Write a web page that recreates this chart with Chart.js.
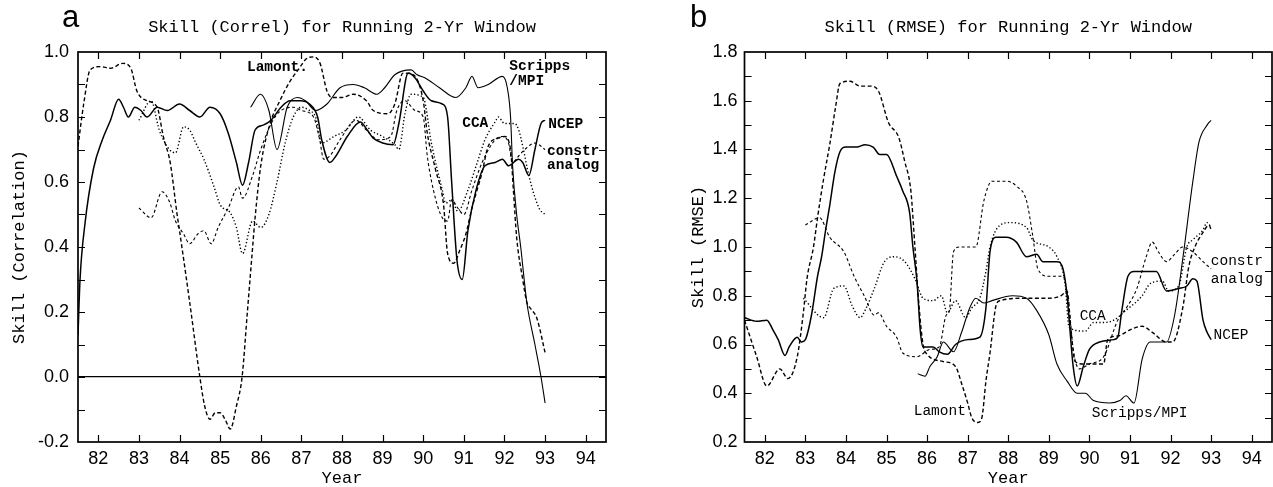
<!DOCTYPE html>
<html>
<head>
<meta charset="utf-8">
<script src="https://cdn.jsdelivr.net/npm/chart.js@4.4.1/dist/chart.umd.min.js"></script>
<style>
  body { margin: 0; background: #fff; }
  #wrap { position: relative; width: 1273px; height: 487px; overflow: hidden; }
  #wrap div { position: absolute; top: 0; }
</style>
</head>
<body>
<div id="wrap">
  <div style="left:0"><canvas id="corrChart" width="640" height="487"></canvas></div>
  <div style="left:636px"><canvas id="rmseChart" width="637" height="487"></canvas></div>
</div>
<script>
// --- tick labels ---
const yearTicks = [82, 83, 84, 85, 86, 87, 88, 89, 90, 91, 92, 93, 94];
const corrTicks = [-0.2, 0.0, 0.2, 0.4, 0.6, 0.8, 1.0];
const rmseTicks = [0.2, 0.4, 0.6, 0.8, 1.0, 1.2, 1.4, 1.6, 1.8];

// --- panel a: correlation, [year, skill] ---
const ncepCorr = [[81.5,0.13],[81.55,0.3],[81.67,0.47],[81.88,0.64],[82.1,0.73],[82.3,0.79],[82.5,0.855],[82.62,0.83],[82.74,0.8],[82.9,0.83],[83.05,0.82],[83.2,0.8],[83.45,0.83],[83.7,0.82],[84.0,0.84],[84.25,0.82],[84.5,0.8],[84.75,0.83],[85.0,0.81],[85.2,0.75],[85.4,0.66],[85.55,0.59],[85.7,0.66],[85.86,0.76],[86.06,0.775],[86.25,0.79],[86.5,0.83],[86.72,0.85],[86.97,0.85],[87.2,0.84],[87.4,0.8],[87.5,0.73],[87.7,0.66],[87.85,0.68],[88.13,0.74],[88.45,0.785],[88.62,0.76],[88.77,0.735],[89.0,0.72],[89.26,0.715],[89.4,0.78],[89.63,0.935],[89.8,0.92],[90.0,0.88],[90.2,0.85],[90.47,0.84],[90.6,0.8],[90.7,0.6],[90.83,0.36],[90.96,0.3],[91.1,0.45],[91.3,0.575],[91.52,0.65],[91.77,0.66],[91.95,0.67],[92.1,0.65],[92.35,0.67],[92.45,0.66],[92.6,0.62],[92.75,0.7],[92.9,0.78],[93.0,0.79]];
const scrippsCorr = [[85.75,0.83],[85.99,0.87],[86.2,0.82],[86.4,0.7],[86.65,0.83],[86.9,0.86],[87.1,0.85],[87.35,0.82],[87.63,0.84],[87.95,0.89],[88.28,0.9],[88.55,0.89],[88.86,0.87],[89.05,0.89],[89.3,0.93],[89.7,0.945],[89.85,0.93],[90.05,0.92],[90.4,0.89],[90.8,0.86],[91.05,0.89],[91.2,0.925],[91.35,0.89],[91.6,0.9],[91.95,0.925],[92.07,0.89],[92.15,0.8],[92.2,0.65],[92.3,0.5],[92.4,0.4],[92.55,0.23],[92.75,0.1],[92.9,0.0],[93.0,-0.08]];
const lamontCorr = [[81.5,0.71],[81.64,0.84],[81.8,0.945],[82.05,0.955],[82.3,0.95],[82.6,0.965],[82.8,0.95],[82.95,0.88],[83.2,0.85],[83.45,0.83],[83.6,0.74],[83.77,0.66],[83.94,0.5],[84.0,0.45],[84.25,0.23],[84.5,0.0],[84.62,-0.09],[84.75,-0.13],[84.88,-0.11],[85.0,-0.11],[85.12,-0.13],[85.25,-0.16],[85.4,-0.09],[85.54,0.0],[85.67,0.2],[85.8,0.4],[85.86,0.49],[86.0,0.65],[86.23,0.78],[86.47,0.85],[86.72,0.91],[86.92,0.945],[87.13,0.98],[87.3,0.985],[87.46,0.965],[87.63,0.88],[87.75,0.86],[88.0,0.86],[88.28,0.87],[88.6,0.85],[88.77,0.82],[89.13,0.81],[89.3,0.84],[89.5,0.935],[89.75,0.93],[90.0,0.85],[90.1,0.75],[90.3,0.64],[90.5,0.53],[90.6,0.38],[90.75,0.35],[90.9,0.39],[91.05,0.44],[91.2,0.52],[91.45,0.63],[91.6,0.71],[91.85,0.735],[92.0,0.74],[92.15,0.7],[92.22,0.575],[92.3,0.43],[92.45,0.3],[92.55,0.23],[92.65,0.21],[92.8,0.18],[93.0,0.075]];
const ccaCorr = [[83.0,0.79],[83.3,0.85],[83.5,0.76],[83.75,0.7],[83.9,0.69],[84.1,0.77],[84.25,0.76],[84.4,0.72],[84.6,0.67],[84.85,0.585],[85.0,0.53],[85.25,0.505],[85.4,0.46],[85.55,0.38],[85.8,0.48],[86.0,0.46],[86.2,0.5],[86.4,0.6],[86.6,0.72],[86.8,0.8],[87.0,0.83],[87.2,0.82],[87.35,0.8],[87.5,0.72],[87.8,0.74],[88.1,0.76],[88.4,0.8],[88.7,0.76],[89.0,0.74],[89.3,0.715],[89.4,0.7],[89.55,0.81],[89.7,0.87],[90.0,0.86],[90.2,0.72],[90.47,0.575],[90.55,0.535],[90.7,0.545],[90.85,0.51],[91.1,0.575],[91.33,0.66],[91.52,0.73],[91.77,0.785],[91.85,0.8],[92.0,0.78],[92.25,0.78],[92.35,0.76],[92.45,0.71],[92.6,0.62],[92.85,0.52],[93.0,0.5]];
const constrCorr = [[83.0,0.52],[83.3,0.49],[83.57,0.57],[83.75,0.54],[83.9,0.48],[84.1,0.44],[84.25,0.41],[84.45,0.44],[84.6,0.45],[84.78,0.41],[84.95,0.46],[85.2,0.52],[85.45,0.585],[85.55,0.55],[85.8,0.62],[86.0,0.7],[86.3,0.79],[86.5,0.82],[86.8,0.83],[87.0,0.82],[87.3,0.8],[87.45,0.73],[87.55,0.67],[87.7,0.68],[87.95,0.73],[88.35,0.79],[88.6,0.76],[88.9,0.73],[89.2,0.74],[89.35,0.82],[89.55,0.85],[89.8,0.82],[90.0,0.8],[90.1,0.68],[90.3,0.55],[90.47,0.49],[90.6,0.48],[90.7,0.545],[90.85,0.52],[91.0,0.5],[91.2,0.575],[91.45,0.66],[91.77,0.73],[91.95,0.74],[92.1,0.72],[92.2,0.66],[92.35,0.68],[92.5,0.7],[92.75,0.72],[93.0,0.7]];

// --- panel b: RMSE, [year, skill] ---
const ncepRmse = [[81.5,0.71],[81.8,0.695],[82.05,0.7],[82.2,0.66],[82.33,0.62],[82.5,0.555],[82.6,0.59],[82.8,0.63],[82.9,0.61],[83.0,0.62],[83.15,0.72],[83.3,0.88],[83.4,0.96],[83.5,1.07],[83.6,1.17],[83.73,1.31],[83.85,1.39],[84.0,1.41],[84.27,1.41],[84.47,1.42],[84.67,1.41],[84.83,1.38],[85.0,1.38],[85.25,1.29],[85.4,1.23],[85.57,1.14],[85.65,1.0],[85.75,0.86],[85.83,0.66],[85.9,0.59],[86.15,0.59],[86.3,0.57],[86.5,0.56],[86.7,0.6],[87.0,0.62],[87.3,0.63],[87.45,0.75],[87.55,0.98],[87.7,1.04],[87.95,1.04],[88.2,1.02],[88.45,0.96],[88.7,0.97],[88.85,0.94],[89.2,0.94],[89.35,0.91],[89.45,0.8],[89.6,0.51],[89.7,0.43],[89.85,0.51],[90.0,0.58],[90.25,0.61],[90.6,0.62],[90.7,0.63],[90.8,0.74],[90.95,0.88],[91.1,0.9],[91.65,0.9],[91.9,0.82],[92.2,0.83],[92.4,0.84],[92.55,0.87],[92.65,0.86],[92.8,0.7],[92.9,0.65],[93.0,0.62]];
const scrippsRmse = [[85.77,0.48],[85.95,0.47],[86.07,0.51],[86.25,0.55],[86.4,0.61],[86.65,0.57],[86.85,0.65],[87.05,0.75],[87.2,0.79],[87.4,0.77],[87.6,0.78],[88.1,0.8],[88.45,0.79],[88.7,0.74],[89.0,0.64],[89.2,0.52],[89.45,0.45],[89.7,0.4],[89.9,0.4],[90.1,0.37],[90.5,0.36],[90.75,0.37],[90.9,0.39],[91.1,0.36],[91.3,0.54],[91.5,0.61],[91.9,0.61],[92.1,0.72],[92.3,0.95],[92.55,1.27],[92.7,1.43],[92.9,1.5],[93.0,1.52]];
const lamontRmse = [[81.5,0.7],[81.8,0.55],[82.05,0.43],[82.37,0.5],[82.57,0.46],[82.8,0.55],[82.95,0.73],[83.04,0.87],[83.2,1.0],[83.3,1.12],[83.45,1.28],[83.6,1.42],[83.75,1.58],[83.85,1.67],[84.1,1.68],[84.35,1.66],[84.6,1.66],[84.8,1.64],[85.05,1.51],[85.3,1.45],[85.45,1.35],[85.6,1.23],[85.7,1.0],[85.8,0.76],[85.9,0.6],[86.0,0.56],[86.4,0.53],[86.7,0.51],[86.85,0.44],[87.0,0.36],[87.1,0.3],[87.25,0.28],[87.35,0.3],[87.45,0.45],[87.55,0.565],[87.7,0.76],[87.8,0.78],[88.45,0.79],[89.0,0.79],[89.3,0.8],[89.45,0.82],[89.55,0.65],[89.65,0.53],[89.85,0.52],[90.35,0.52],[90.45,0.62],[90.7,0.635],[91.0,0.66],[91.3,0.675],[91.55,0.65],[91.9,0.61],[92.05,0.61],[92.3,0.75],[92.45,0.92],[92.6,1.0],[92.8,1.06],[92.95,1.09],[93.0,1.07]];
const ccaRmse = [[82.95,0.79],[83.45,0.71],[83.7,0.83],[83.95,0.84],[84.15,0.76],[84.35,0.71],[84.5,0.75],[84.7,0.83],[84.95,0.94],[85.2,0.96],[85.45,0.94],[85.7,0.87],[85.9,0.79],[86.15,0.78],[86.35,0.8],[86.5,0.73],[86.7,0.78],[86.95,0.71],[87.1,0.75],[87.3,0.79],[87.45,0.9],[87.55,1.0],[87.8,1.09],[88.05,1.1],[88.45,1.08],[88.6,1.03],[89.0,1.0],[89.2,0.96],[89.4,0.85],[89.5,0.67],[89.9,0.655],[90.1,0.69],[90.35,0.69],[90.6,0.7],[90.9,0.74],[91.3,0.8],[91.5,0.85],[91.8,0.86],[91.95,0.82],[92.2,0.84],[92.4,1.0],[92.55,1.03],[92.8,1.07],[92.9,1.1],[93.0,1.08]];
const constrRmse = [[83.0,1.09],[83.35,1.12],[83.6,1.04],[83.95,0.98],[84.2,0.88],[84.45,0.8],[84.7,0.72],[84.8,0.73],[85.0,0.675],[85.25,0.63],[85.4,0.565],[85.75,0.55],[86.07,0.58],[86.3,0.59],[86.47,0.72],[86.55,0.74],[86.65,0.98],[86.8,1.0],[87.2,1.0],[87.4,1.19],[87.6,1.27],[87.95,1.27],[88.2,1.25],[88.45,1.19],[88.6,1.05],[88.73,0.91],[89.0,0.88],[89.35,0.88],[89.5,0.75],[89.6,0.58],[89.75,0.5],[90.0,0.52],[90.35,0.55],[90.7,0.7],[90.95,0.76],[91.17,0.83],[91.4,0.96],[91.55,1.02],[91.7,0.98],[91.9,0.94],[92.1,0.97],[92.3,1.0],[92.55,0.98],[92.8,0.94],[93.0,0.91]];

// curve labels, placed in data units
const corrLabels = [
  { text: 'Lamont.', x: 85.66, y: 0.954 },
  { text: 'Scripps', x: 92.12, y: 0.957 },
  { text: '/MPI', x: 92.12, y: 0.91 },
  { text: 'CCA', x: 90.96, y: 0.78 },
  { text: 'NCEP', x: 93.08, y: 0.778 },
  { text: 'constr', x: 93.05, y: 0.695 },
  { text: 'analog', x: 93.05, y: 0.65 }
];
const rmseLabels = [
  { text: 'Lamont', x: 85.67, y: 0.328 },
  { text: 'Scripps/MPI', x: 90.06, y: 0.32 },
  { text: 'CCA', x: 89.76, y: 0.715 },
  { text: 'NCEP', x: 93.06, y: 0.64 },
  { text: 'constr', x: 92.99, y: 0.94 },
  { text: 'analog', x: 92.99, y: 0.87 }
];

const MONO = "'Liberation Mono', 'DejaVu Sans Mono', monospace";
const SANS = "'Liberation Sans', Arial, sans-serif";

const toXY = arr => arr.map(p => ({ x: p[0], y: p[1] }));

function series(data, style) {
  return Object.assign({
    data: toXY(data),
    borderColor: '#000',
    borderWidth: 1.2,
    pointRadius: 0,
    fill: false,
    cubicInterpolationMode: 'monotone'
  }, style);
}

const solidThick = { borderWidth: 1.5 };
const solidThin = { borderWidth: 1.1 };
const dashed = { borderWidth: 1.4, borderDash: [4, 2.5] };
const dotted = { borderWidth: 1.4, borderDash: [1.3, 2.2] };
const dashedThin = { borderWidth: 1.1, borderDash: [3, 2.5] };

// frame, inward ticks, curve labels and the panel letter
const framePlugin = {
  id: 'frame',
  afterDraw(chart, args, opts) {
    const { ctx, chartArea: a, scales: { x, y } } = chart;
    ctx.save();
    ctx.strokeStyle = '#000';
    ctx.lineWidth = 1.7;
    ctx.strokeRect(a.left, a.top, a.right - a.left, a.bottom - a.top);
    ctx.lineWidth = 1.2;
    ctx.beginPath();
    x.ticks.forEach(t => {
      const px = Math.round(x.getPixelForValue(t.value)) + 0.5;
      ctx.moveTo(px, a.bottom); ctx.lineTo(px, a.bottom - 7);
      ctx.moveTo(px, a.top); ctx.lineTo(px, a.top + 7);
    });
    const n = Math.round((y.max - y.min) / 0.1);
    for (let i = 1; i < n; i++) {
      const py = Math.round(y.getPixelForValue(y.min + i * 0.1)) + 0.5;
      ctx.moveTo(a.left, py); ctx.lineTo(a.left + 7, py);
      ctx.moveTo(a.right, py); ctx.lineTo(a.right - 7, py);
    }
    ctx.stroke();

    ctx.fillStyle = '#000';
    ctx.font = opts.labelFont;
    ctx.textBaseline = 'middle';
    ctx.textAlign = 'left';
    opts.labels.forEach(l => ctx.fillText(l.text, x.getPixelForValue(l.x), y.getPixelForValue(l.y)));

    ctx.font = "31px " + SANS;
    ctx.textBaseline = 'alphabetic';
    ctx.fillText(opts.letter, opts.letterX, 27);
    ctx.restore();
  }
};

function makeChart(id, cfg) {
  return new Chart(document.getElementById(id), {
    type: 'line',
    data: { datasets: cfg.datasets },
    plugins: [framePlugin],
    options: {
      responsive: false,
      animation: false,
      layout: { padding: cfg.padding },
      plugins: {
        legend: { display: false },
        tooltip: { enabled: false },
        title: {
          display: true,
          text: cfg.title,
          fullSize: false,
          color: '#000',
          font: { family: MONO, size: 17, weight: 'normal' },
          padding: { top: 17, bottom: 14.6 }
        },
        frame: { labels: cfg.labels, labelFont: cfg.labelFont, letter: cfg.letter, letterX: cfg.letterX }
      },
      scales: {
        x: {
          type: 'linear',
          min: 81.5,
          max: 94.5,
          afterBuildTicks: s => { s.ticks = yearTicks.map(v => ({ value: v })); },
          afterFit: s => { s.height = 45; },
          grid: { display: false, drawTicks: false },
          border: { display: false },
          ticks: { color: '#000', font: { family: SANS, size: 18 }, padding: 6, maxRotation: 0, callback: v => String(v) },
          title: { display: true, text: 'Year', color: '#000', font: { family: MONO, size: 17, lineHeight: 1 }, padding: { top: 0, bottom: 0 } }
        },
        y: {
          min: cfg.yMin,
          max: cfg.yMax,
          afterBuildTicks: s => { s.ticks = cfg.yTicks.map(v => ({ value: v })); },
          afterFit: s => { s.width = cfg.yWidth; },
          grid: {
            drawTicks: false,
            lineWidth: 1.3,
            color: c => (cfg.zeroLine && c.tick && Math.abs(c.tick.value) < 1e-9) ? '#000' : 'rgba(0,0,0,0)'
          },
          border: { display: false },
          ticks: { color: '#000', font: { family: SANS, size: 18 }, padding: cfg.tickPad, callback: v => v.toFixed(1) },
          title: { display: true, text: cfg.yTitle, color: '#000', font: { family: MONO, size: 17 }, padding: { top: cfg.yTitlePad, bottom: 0 } }
        }
      }
    }
  });
}

makeChart('corrChart', {
  title: 'Skill (Correl) for Running 2-Yr Window',
  yTitle: 'Skill (Correlation)',
  yMin: -0.2, yMax: 1.0, yTicks: corrTicks,
  yWidth: 78, yTitlePad: 9, tickPad: 9,
  zeroLine: true,
  padding: { top: 0, left: 0, right: 34, bottom: 0 },
  labels: corrLabels,
  labelFont: "bold 14.5px " + MONO,
  letter: 'a', letterX: 62,
  datasets: [
    series(ncepCorr, solidThick),
    series(scrippsCorr, solidThin),
    series(lamontCorr, dashed),
    series(ccaCorr, dotted),
    series(constrCorr, dashedThin)
  ]
});

makeChart('rmseChart', {
  title: 'Skill (RMSE) for Running 2-Yr Window',
  yTitle: 'Skill (RMSE)',
  yMin: 0.2, yMax: 1.8, yTicks: rmseTicks,
  yWidth: 108.5, yTitlePad: 52, tickPad: 7,
  zeroLine: false,
  padding: { top: 0, left: 0, right: 1, bottom: 0 },
  labels: rmseLabels,
  labelFont: "14.5px " + MONO,
  letter: 'b', letterX: 54,
  datasets: [
    series(ncepRmse, solidThick),
    series(scrippsRmse, solidThin),
    series(lamontRmse, dashed),
    series(ccaRmse, dotted),
    series(constrRmse, dashedThin)
  ]
});
</script>
</body>
</html>
